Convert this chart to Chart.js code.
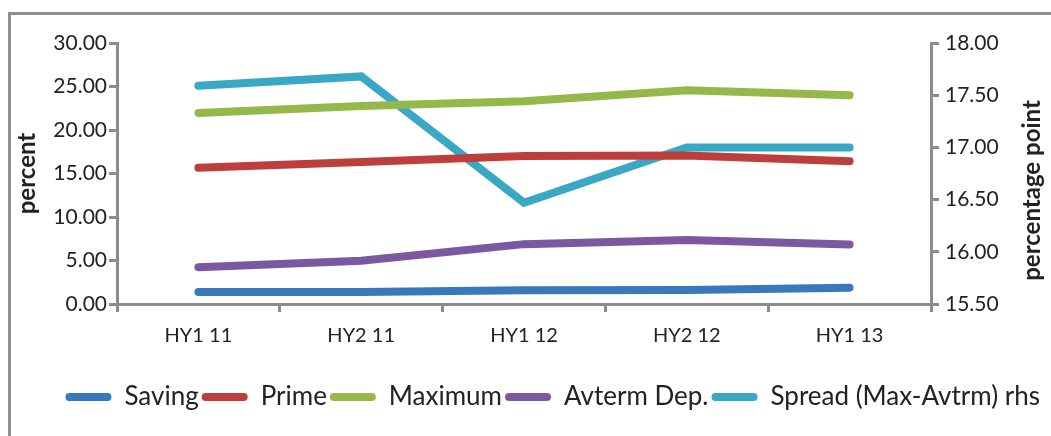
<!DOCTYPE html>
<html>
<head>
<meta charset="utf-8">
<script src="https://cdn.jsdelivr.net/npm/chart.js@4.4.1/dist/chart.umd.min.js"></script>
<style>
  html, body { margin: 0; padding: 0; background: #fff; }
  #wrap { position: relative; width: 1051px; height: 436px; }
  #frame { position: absolute; left: 8px; top: 12px; width: 1100px; height: 500px;
           border-left: 3px solid #8f8f8f; border-top: 3px solid #8f8f8f; }
  canvas { position: absolute; left: 0; top: 0; }
</style>
</head>
<body>
<div id="wrap">
  <div id="frame"></div>
  <canvas id="myChart" width="1051" height="436"></canvas>
</div>
<script>
const periods = ['HY1 11', 'HY2 11', 'HY1 12', 'HY2 12', 'HY1 13'];

const saving  = [1.38, 1.38, 1.58, 1.62, 1.88];
const prime   = [15.65, 16.31, 17.0, 17.08, 16.42];
const maximum = [21.96, 22.77, 23.31, 24.58, 24.0];
const avterm  = [4.23, 4.96, 6.88, 7.35, 6.85];
const spread  = [17.59, 17.68, 16.47, 17.0, 17.0]; // eje derecho

const leftTicks = [0, 30, 5];      // min, max, paso
const rightTicks = [15.5, 18, 0.5];

const gris = '#8c8c8c';
const fuente = 'Lato, "Open Sans", sans-serif';

const serie = (label, data, color, eje) => ({
    label: label,
    data: data,
    yAxisID: eje,
    borderColor: color,
    backgroundColor: color,
    borderWidth: 8,
    borderCapStyle: 'round',
    borderJoinStyle: 'miter',
    pointRadius: 0,
    tension: 0
});

// titulo del eje derecho, leido de abajo hacia arriba
const tituloDerecho = {
    id: 'tituloDerecho',
    afterDraw(chart) {
        const ctx = chart.ctx;
        const area = chart.chartArea;
        ctx.save();
        ctx.translate(1032, (area.top + area.bottom) / 2 + 17);
        ctx.rotate(-Math.PI / 2);
        ctx.font = 'bold 24px ' + fuente;
        ctx.fillStyle = '#222';
        ctx.textAlign = 'center';
        ctx.textBaseline = 'middle';
        ctx.fillText('percentage point', 0, 0);
        ctx.restore();
    }
};

const ctx = document.getElementById('myChart').getContext('2d');

new Chart(ctx, {
    type: 'line',
    data: {
        labels: periods,
        datasets: [
            serie('Saving', saving, '#3a78bc', 'y'),
            serie('Prime', prime, '#be3e3b', 'y'),
            serie('Maximum', maximum, '#95b84a', 'y'),
            serie('Avterm Dep.', avterm, '#7b58a0', 'y'),
            serie('Spread (Max-Avtrm) rhs', spread, '#38a8c5', 'y1')
        ]
    },
    plugins: [tituloDerecho],
    options: {
        responsive: false,
        animation: false,
        maintainAspectRatio: false,
        layout: { padding: { left: 9, right: 8, top: 43, bottom: 16 } },
        plugins: {
            tooltip: { enabled: false },
            legend: {
                position: 'bottom',
                align: 'end',
                labels: {
                    boxWidth: 46,
                    boxHeight: 8,
                    useBorderRadius: true,
                    borderRadius: 4,
                    padding: 3,
                    color: '#222',
                    font: { family: fuente, size: 26 },
                    generateLabels: (chart) => {
                        const items = Chart.defaults.plugins.legend.labels.generateLabels(chart);
                        items.forEach((it) => { it.lineWidth = 0; });
                        return items;
                    }
                }
            }
        },
        scales: {
            x: {
                offset: true,
                afterFit: (scale) => { scale.height = 77; },
                grid: { offset: true, drawOnChartArea: false, color: gris, lineWidth: 3, tickLength: 8 },
                border: { color: gris, width: 3 },
                ticks: { color: '#222', padding: 12, font: { family: fuente, size: 20 } }
            },
            y: {
                position: 'left',
                min: leftTicks[0],
                max: leftTicks[1],
                afterFit: (scale) => { scale.width = 108; },
                grid: { drawOnChartArea: false, color: gris, lineWidth: 3, tickLength: 8 },
                border: { color: gris, width: 3 },
                ticks: {
                    stepSize: leftTicks[2],
                    color: '#222',
                    padding: 2,
                    font: { family: fuente, size: 21 },
                    callback: (v) => v.toFixed(2)
                },
                title: {
                    display: true,
                    text: 'percent',
                    color: '#222',
                    padding: { top: 4, bottom: 4 },
                    font: { family: fuente, size: 24, weight: 'bold' }
                }
            },
            y1: {
                position: 'right',
                min: rightTicks[0],
                max: rightTicks[1],
                afterFit: (scale) => { scale.width = 112; },
                grid: { drawOnChartArea: false, color: gris, lineWidth: 3, tickLength: 8 },
                border: { color: gris, width: 3 },
                ticks: {
                    stepSize: rightTicks[2],
                    color: '#222',
                    padding: 6,
                    font: { family: fuente, size: 21 },
                    callback: (v) => v.toFixed(2)
                }
            }
        }
    }
});
</script>
</body>
</html>
